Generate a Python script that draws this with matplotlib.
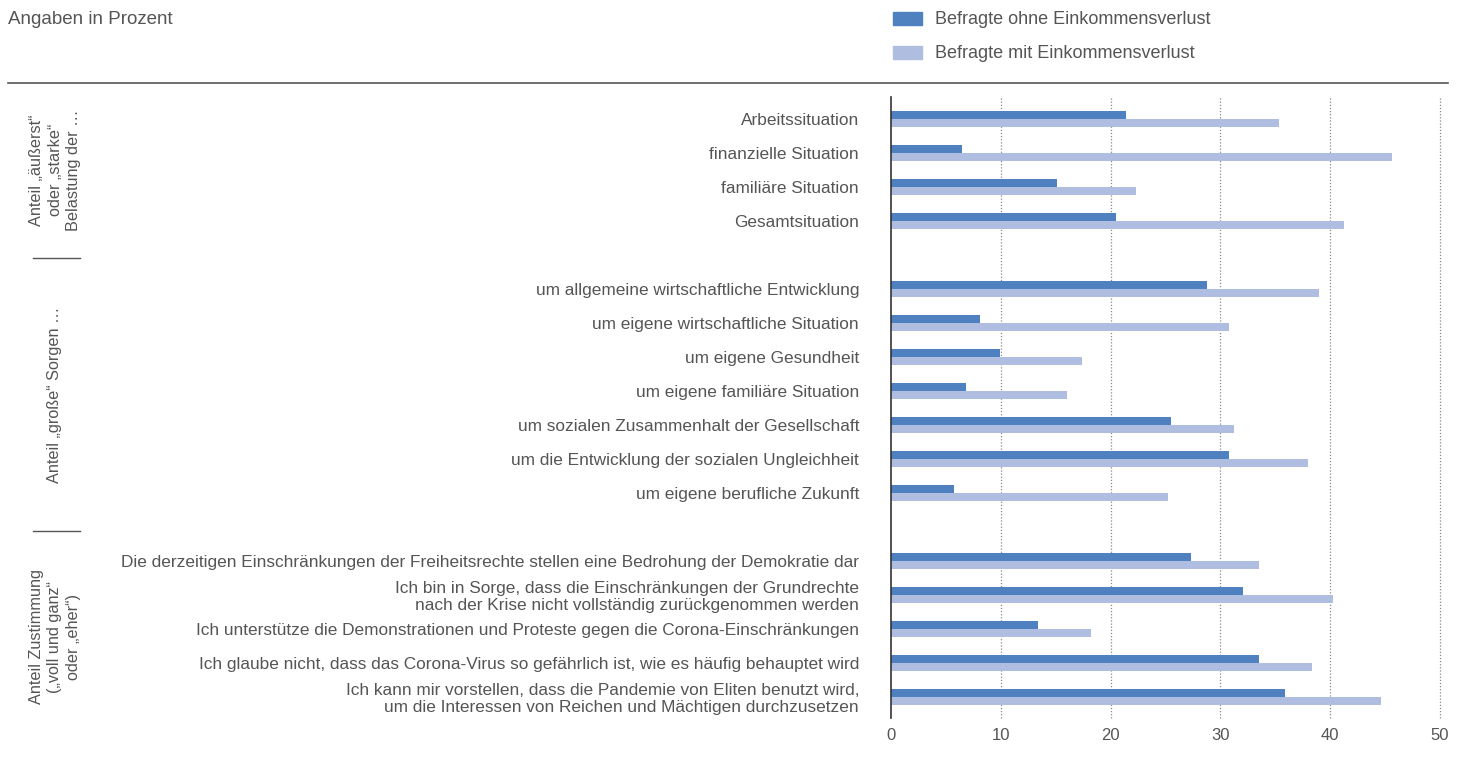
import numpy as np
import matplotlib
matplotlib.use("Agg")
import matplotlib.pyplot as plt
from matplotlib.patches import Rectangle
from matplotlib.lines import Line2D

plt.rcParams["font.family"] = ["Liberation Sans", "DejaVu Sans"]

labels = [
    "Arbeitssituation",
    "finanzielle Situation",
    "familiäre Situation",
    "Gesamtsituation",
    "um allgemeine wirtschaftliche Entwicklung",
    "um eigene wirtschaftliche Situation",
    "um eigene Gesundheit",
    "um eigene familiäre Situation",
    "um sozialen Zusammenhalt der Gesellschaft",
    "um die Entwicklung der sozialen Ungleichheit",
    "um eigene berufliche Zukunft",
    "Die derzeitigen Einschränkungen der Freiheitsrechte stellen eine Bedrohung der Demokratie dar",
    "Ich bin in Sorge, dass die Einschränkungen der Grundrechte\nnach der Krise nicht vollständig zurückgenommen werden",
    "Ich unterstütze die Demonstrationen und Proteste gegen die Corona-Einschränkungen",
    "Ich glaube nicht, dass das Corona-Virus so gefährlich ist, wie es häufig behauptet wird",
    "Ich kann mir vorstellen, dass die Pandemie von Eliten benutzt wird,\num die Interessen von Reichen und Mächtigen durchzusetzen",
]
ohne_verlust = [21.4, 6.5, 15.1, 20.5,
                28.8, 8.1, 9.9, 6.8, 25.5, 30.8, 5.7,
                27.3, 32.1, 13.4, 33.5, 35.9]
mit_verlust = [35.3, 45.6, 22.3, 41.3,
               39.0, 30.8, 17.4, 16.0, 31.2, 38.0, 25.2,
               33.5, 40.3, 18.2, 38.3, 44.6]
# slot of each row (blank slot between groups)
slots = [0, 1, 2, 3, 5, 6, 7, 8, 9, 10, 11, 13, 14, 15, 16, 17]
group_labels = ["Anteil „äußerst“\noder „starke“\nBelastung der …",
                "Anteil „große“ Sorgen …",
                "Anteil Zustimmung\n(„voll und ganz“\noder „eher“)"]
series_names = ["Befragte ohne Einkommensverlust", "Befragte mit Einkommensverlust"]

DARK, LIGHT, TXT = "#4f81c0", "#aebde0", "#555555"

W, H = 1464, 767
fig = plt.figure(figsize=(W / 100, H / 100), dpi=100)
ax = fig.add_axes([891 / W, 1 - 718 / H, (1440 - 891) / W, (718 - 97) / H])

y = np.array(slots, dtype=float)
bh = 0.22
ax.barh(y - 0.12, ohne_verlust, height=bh, color=DARK, zorder=3)
ax.barh(y + 0.12, mit_verlust, height=bh, color=LIGHT, zorder=3)
ax.set_xlim(0, 50)
ax.set_ylim(17.62, -0.65)

ax.set_yticks(y)
ax.set_yticklabels(labels, fontsize=12.4, color=TXT, linespacing=1.12)
ax.tick_params(axis="y", length=0, pad=23)
ax.set_xticks(range(0, 51, 10))
ax.tick_params(axis="x", length=0, pad=7, labelsize=12, labelcolor=TXT)
for s in ["top", "right", "bottom"]:
    ax.spines[s].set_visible(False)
ax.spines["left"].set_color("#333333")
ax.spines["left"].set_linewidth(1.2)
ax.spines["left"].set_zorder(4)
for xv in range(10, 51, 10):
    ax.axvline(xv, color="#888888", lw=0.9, ls=(0, (1, 1.5)), zorder=1, clip_on=False)

# header
fig.text(8 / W, 1 - 19 / H, "Angaben in Prozent", fontsize=13.5, color=TXT, va="center")
for i, (name, col) in enumerate(zip(series_names, [DARK, LIGHT])):
    yc = 18 + i * 34
    fig.patches.append(Rectangle((893 / W, 1 - (yc + 7) / H), 29 / W, 13 / H,
                                 transform=fig.transFigure, color=col))
    fig.text(935 / W, 1 - (yc + 1.5) / H, name, fontsize=13, color=TXT, va="center")
fig.lines.append(Line2D([8 / W, 1448 / W], [1 - 83 / H, 1 - 83 / H],
                        transform=fig.transFigure, color="#555555", lw=1.2))

# group labels on the left
for lab, yc in zip(group_labels, [170, 395, 637]):
    fig.text(55 / W, 1 - yc / H, lab, rotation=90, fontsize=11.7, color=TXT,
             ha="center", va="center", linespacing=1.3)
for yl in [258, 531]:
    fig.lines.append(Line2D([33 / W, 80 / W], [1 - yl / H, 1 - yl / H],
                            transform=fig.transFigure, color="#555555", lw=1))

fig.savefig("out.png", dpi=100)
